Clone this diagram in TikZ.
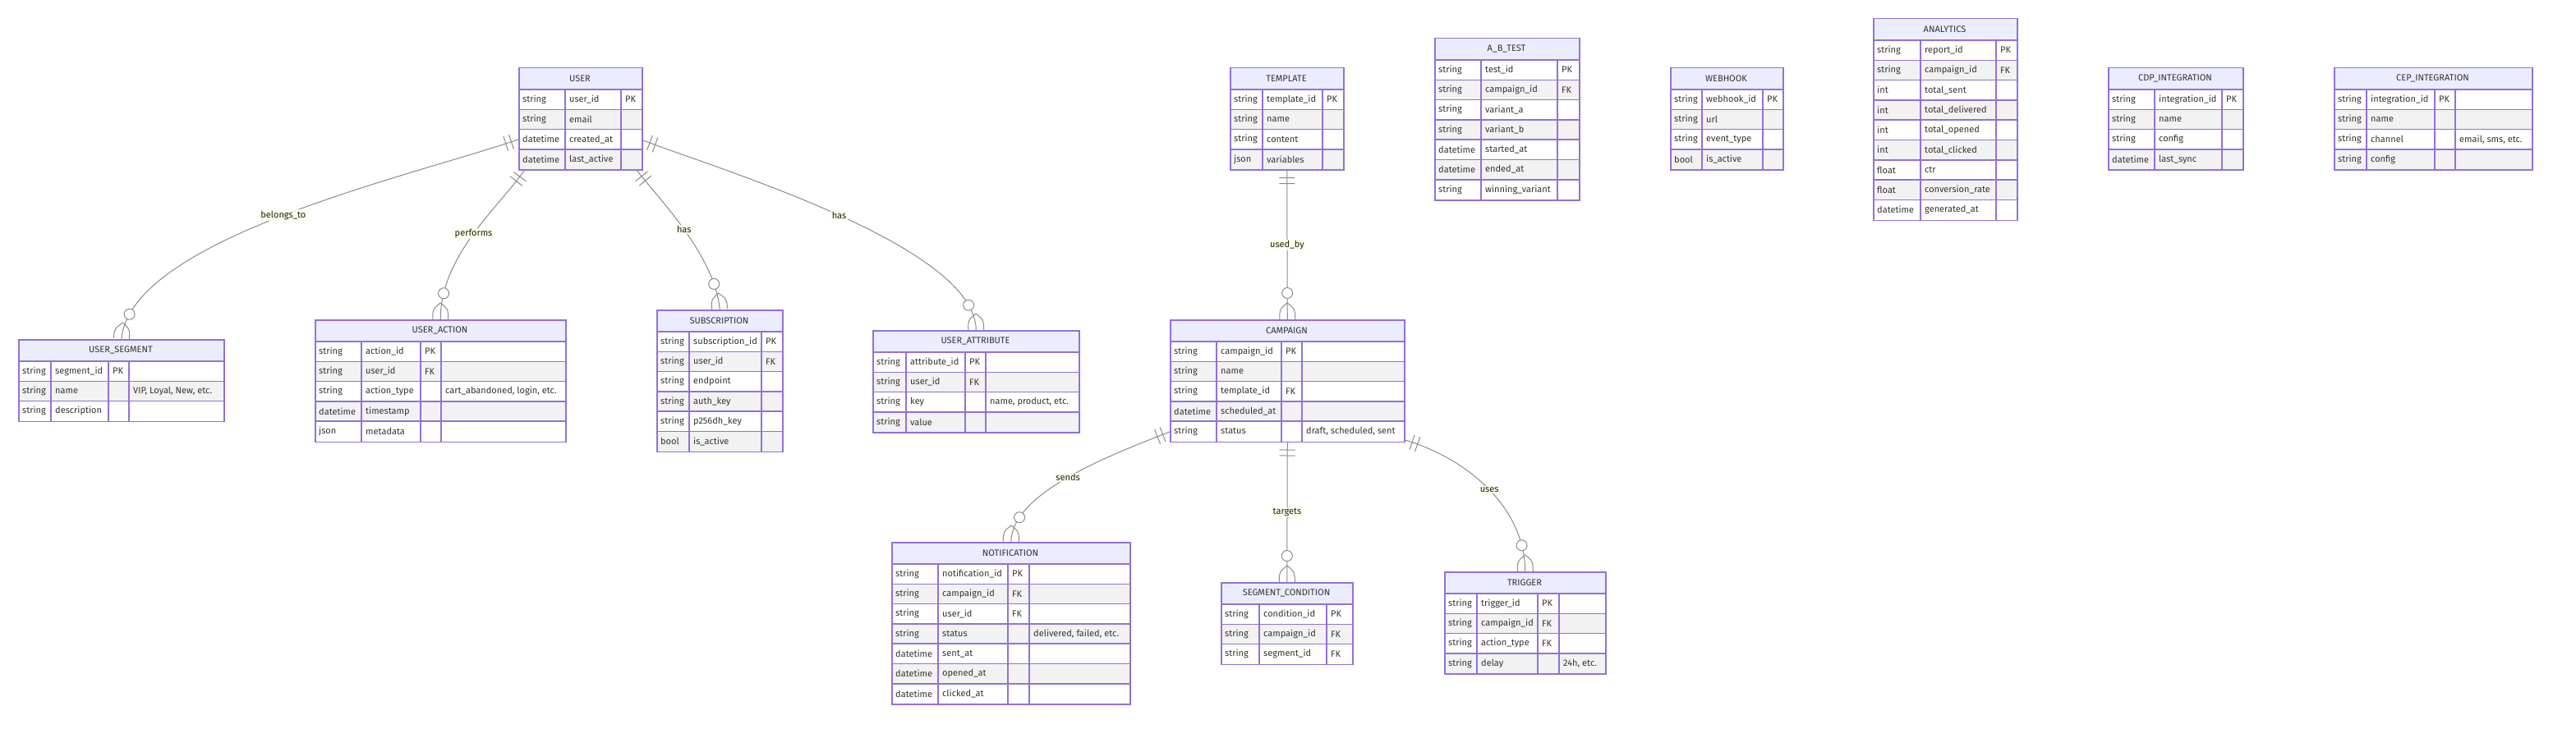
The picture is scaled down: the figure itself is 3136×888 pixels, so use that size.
\documentclass[tikz,border=0pt]{standalone}
\usepackage{fontspec}
\setmainfont{Fira Sans}
\usetikzlibrary{decorations.markings}
\definecolor{erline}{HTML}{9370DB}
\definecolor{erhead}{HTML}{ECECFF}
\definecolor{errow}{HTML}{F2F2F2}
\definecolor{ertext}{HTML}{333333}
\definecolor{relline}{HTML}{8A8A8A}
\definecolor{relbg}{HTML}{F9FFEC}
\definecolor{reltext}{HTML}{222211}
\tikzstyle{every node}=[text=ertext,font=\fontsize{11}{13}\selectfont]
\tikzstyle{entitytitle}=[inner sep=0pt]
\tikzstyle{entitycell}=[anchor=west,inner sep=0pt]
\tikzstyle{entityframe}=[draw=erline,line width=1.5pt,inner sep=0pt,anchor=north west]
\tikzstyle{entityrule}=[draw=erline,line width=1.5pt]
\tikzstyle{relation}=[draw=relline,line width=1pt]
\tikzstyle{relationlabel}=[fill=relbg,fill opacity=0.85,text opacity=1,text=reltext,inner sep=1.5pt]
\tikzstyle{onlyone}=[postaction={decorate,decoration={markings,
    mark=at position 9pt with {\draw[relation] (0pt,-9.5pt) -- (0pt,9.5pt);},
    mark=at position 16pt with {\draw[relation] (0pt,-9.5pt) -- (0pt,9.5pt);}}}]
\tikzstyle{zeromany}=[postaction={decorate,decoration={markings,
    mark=at position -32pt with {\draw[relation,fill=white] (0pt,0pt) circle (6.5pt);},
    mark=at position -0.1pt with {\draw[relation] (-20pt,0pt) .. controls (-12pt,9.5pt) .. (0pt,9.5pt)
        (-20pt,0pt) .. controls (-12pt,-9.5pt) .. (0pt,-9.5pt);}}}]

\def\erwidths#1/#2/#3/#4\relax{%
  \pgfmathsetmacro\erA{#1}%
  \pgfmathsetmacro\erAB{#1+#2}%
  \pgfmathsetmacro\erABC{#1+#2+#3}%
  \pgfmathsetmacro\erW{#1+#2+#3+#4}}
\newcommand{\erbox}[5]{%
  \erwidths#3\relax
  \begin{scope}[shift={(#2)}]
    \fill[erhead] (0,0) rectangle (\erW,27);
    \node[entitytitle] (#1-title) at (\erW/2,13.5) {#4};
    \foreach \rtype/\rname/\rkey/\rnote [count=\i] in {#5} {
      \ifodd\i \def\rcol{white}\else\def\rcol{errow}\fi
      \pgfmathsetmacro\ry{27+(\i-1)*24.3}
      \fill[\rcol] (0,\ry) rectangle (\erW,\ry+24.3);
      \draw[entityrule] (0,\ry) -- (\erW,\ry);
      \node[entitycell] (#1-\i-type) at (5,\ry+12.15) {\rtype};
      \node[entitycell] (#1-\i-name) at (\erA+5,\ry+12.15) {\rname};
      \node[entitycell] (#1-\i-key) at (\erAB+5,\ry+12.15) {\rkey};
      \node[entitycell] (#1-\i-note) at (\erABC+5,\ry+12.15) {\rnote};
      \xdef\errows{\i}
    }
    \pgfmathsetmacro\erH{27+\errows*24.3}
    \draw[entityrule] (\erA,27) -- (\erA,\erH) (\erAB,27) -- (\erAB,\erH);
    \ifdim\erW pt>\erABC pt \draw[entityrule] (\erABC,27) -- (\erABC,\erH);\fi
    \node[entityframe,minimum width=\erW pt,minimum height=\erH pt] (#1) at (0,0) {};
  \end{scope}}

\begin{document}
\begin{tikzpicture}[x=1pt,y=-1pt]
    \useasboundingbox (0,0) rectangle (3136,888);

    \erbox{user}{631,82}{57/68/25/0}{USER}{string/user\_id/PK/, string/email//,
        datetime/created\_at//, datetime/last\_active//}
    \erbox{useg}{22,413}{40/70/25/115}{USER\_SEGMENT}{string/segment\_id/PK/,
        string/name//{VIP, Loyal, New, etc.}, string/description//}
    \erbox{uact}{383,389}{57/72/25/151}{USER\_ACTION}{string/action\_id/PK/, string/user\_id/FK/,
        string/action\_type//{cart\_abandoned, login, etc.}, datetime/timestamp//, json/metadata//}
    \erbox{subs}{799,377}{40/88/25/0}{SUBSCRIPTION}{string/subscription\_id/PK/, string/user\_id/FK/,
        string/endpoint//, string/auth\_key//, string/p256dh\_key//, bool/is\_active//}
    \erbox{uattr}{1062,402}{41/72/25/113}{USER\_ATTRIBUTE}{string/attribute\_id/PK/, string/user\_id/FK/,
        string/key//{name, product, etc.}, string/value//}
    \erbox{tmpl}{1497,82}{40/73/25/0}{TEMPLATE}{string/template\_id/PK/, string/name//,
        string/content//, json/variables//}
    \erbox{abtest}{1746,46}{57/93/26/0}{A\_B\_TEST}{string/test\_id/PK/, string/campaign\_id/FK/,
        string/variant\_a//, string/variant\_b//, datetime/started\_at//, datetime/ended\_at//,
        string/winning\_variant//}
    \erbox{hook}{2033,82}{39/74/24/0}{WEBHOOK}{string/webhook\_id/PK/, string/url//,
        string/event\_type//, bool/is\_active//}
    \erbox{stats}{2280,22}{58/92/25/0}{ANALYTICS}{string/report\_id/PK/, string/campaign\_id/FK/,
        int/total\_sent//, int/total\_delivered//, int/total\_opened//, int/total\_clicked//,
        float/ctr//, float/conversion\_rate//, datetime/generated\_at//}
    \erbox{cdp}{2566,82}{57/82/25/0}{CDP\_INTEGRATION}{string/integration\_id/PK/, string/name//,
        string/config//, datetime/last\_sync//}
    \erbox{cep}{2841,82}{40/83/25/93}{CEP\_INTEGRATION}{string/integration\_id/PK/, string/name//,
        string/channel//{email, sms, etc.}, string/config//}
    \erbox{camp}{1424,389}{57/79/25/124}{CAMPAIGN}{string/campaign\_id/PK/, string/name//,
        string/template\_id/FK/, datetime/scheduled\_at//, string/status//{draft, scheduled, sent}}
    \erbox{notif}{1085,660}{57/85/26/122}{NOTIFICATION}{string/notification\_id/PK/,
        string/campaign\_id/FK/, string/user\_id/FK/, string/status//{delivered, failed, etc.},
        datetime/sent\_at//, datetime/opened\_at//, datetime/clicked\_at//}
    \erbox{segcond}{1486,709}{47/82/31/0}{SEGMENT\_CONDITION}{string/condition\_id/PK/,
        string/campaign\_id/FK/, string/segment\_id/FK/}
    \erbox{trig}{1758,696}{40/74/26/56}{TRIGGER}{string/trigger\_id/PK/, string/campaign\_id/FK/,
        string/action\_type/FK/, string/delay//{24h, etc.}}

    \draw[relation,onlyone,zeromany] ([yshift=-25pt]user.west) .. controls (500,215) and (160,290) ..
        (useg.north) node[relationlabel,pos=0.5] (lb-belongs) {belongs\_to};
    \draw[relation,onlyone,zeromany] ([xshift=7pt]user.south west) .. controls (610,250) and (536,310) ..
        (uact.north) node[relationlabel,pos=0.5] (lb-performs) {performs};
    \draw[relation,onlyone,zeromany] ([xshift=-7pt]user.south east) .. controls (800,240) and (870,310) ..
        (subs.north) node[relationlabel,pos=0.5] (lb-subs) {has};
    \draw[relation,onlyone,zeromany] ([yshift=-26pt]user.east) .. controls (880,208) and (1187,300) ..
        (uattr.north) node[relationlabel,pos=0.5] (lb-attr) {has};
    \draw[relation,onlyone,zeromany] (tmpl.south) -- (camp.north)
        node[relationlabel,midway] (lb-usedby) {used\_by};
    \draw[relation,onlyone,zeromany] ([yshift=13pt]camp.south west) .. controls (1350,555) and (1232,600) ..
        (notif.north) node[relationlabel,pos=0.5] (lb-sends) {sends};
    \draw[relation,onlyone,zeromany] (camp.south) -- (segcond.north)
        node[relationlabel,midway] (lb-targets) {targets};
    \draw[relation,onlyone,zeromany] ([yshift=3pt]camp.south east) .. controls (1790,560) and (1856,620) ..
        (trig.north) node[relationlabel,pos=0.5] (lb-uses) {uses};
\end{tikzpicture}
\end{document}
